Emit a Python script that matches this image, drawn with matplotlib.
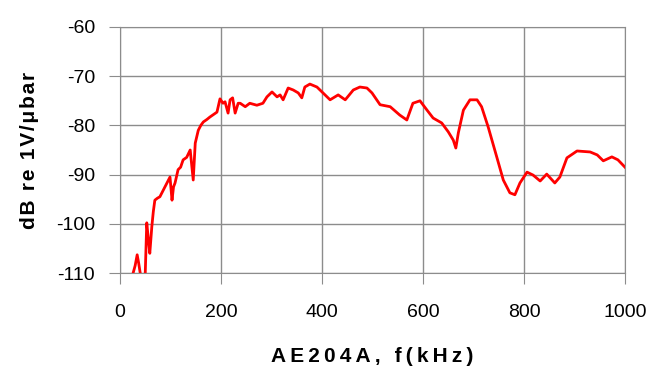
import matplotlib
matplotlib.use('Agg')
import matplotlib.pyplot as plt

# frequency (kHz) and response (dB re 1V/ubar)
freq = [26, 30, 34, 37, 40, 45, 50, 53, 56, 59, 63, 66, 69, 74, 79, 84, 89, 94,
        99, 103, 106, 109, 115, 120, 125, 132, 139, 145, 149, 155, 160, 165,
        172, 178, 185, 192, 198, 204, 208, 214, 218, 223, 228, 234, 238, 248,
        257, 271, 283, 291, 301, 311, 317, 323, 333, 343, 353, 360, 366, 376,
        390, 402, 416, 432, 446, 462, 475, 489, 499, 515, 535, 554, 568, 580,
        594, 608, 620, 637, 650, 660, 665, 670, 680, 693, 707, 716, 729, 746,
        759, 772, 782, 792, 806, 818, 832, 845, 861, 871, 885, 905, 931, 945,
        957, 974, 986, 1000]
db = [-110, -108.5, -106.3, -108, -110, -111, -110, -99.8, -103, -106, -100.6,
      -97.5, -95.2, -94.8, -94.5, -93.5, -92.5, -91.5, -90.5, -95.2, -92.5,
      -91.7, -89, -88.5, -87, -86.5, -85, -91.1, -83.6, -81, -80, -79.3, -78.8,
      -78.3, -77.8, -77.3, -74.6, -75.5, -75.2, -77.5, -74.8, -74.4, -77.5,
      -75.5, -75.5, -76.2, -75.5, -75.9, -75.5, -74.2, -73.2, -74.2, -73.8,
      -74.8, -72.4, -72.8, -73.4, -74.4, -72.2, -71.6, -72.2, -73.4, -74.8,
      -73.8, -74.8, -72.8, -72.2, -72.4, -73.4, -75.8, -76.2, -77.9, -78.9,
      -75.5, -75.0, -76.9, -78.5, -79.5, -81.3, -83, -84.6, -81.5, -76.9,
      -74.8, -74.8, -76.2, -80.3, -86.4, -91.1, -93.7, -94.1, -91.7, -89.5,
      -90.1, -91.3, -89.9, -91.7, -90.5, -86.6, -85.2, -85.4, -86, -87.2,
      -86.4, -87, -88.5]

xticks = [0, 200, 400, 600, 800, 1000]
yticks = [-110, -100, -90, -80, -70, -60]
xlabel = 'AE204A, f(kHz)'
ylabel = 'dB re 1V/μbar'

plt.rcParams['font.family'] = ['Liberation Sans', 'DejaVu Sans']
plt.rcParams['axes.unicode_minus'] = False

fig = plt.figure(figsize=(6.53, 3.70), dpi=100)
ax = fig.add_axes([120/653, 1 - 273/370, 505/653, 246/370])
ax.plot(freq, db, color='#ff0000', lw=2)
ax.set_xlim(0, 1000)
ax.set_ylim(-110, -60)
ax.set_xticks(xticks)
ax.set_yticks(yticks)
ax.grid(True, color='#8c8c8c', lw=1)
for s in ax.spines.values():
    s.set_color('#8c8c8c')
ax.tick_params(labelsize=14, length=8, color='#8c8c8c')
ax.tick_params(axis='x', pad=14)
ax.tick_params(axis='y', pad=10)
# letter spaced labels like the original
ax.set_ylabel('\u200a'.join(ylabel), fontsize=15, fontweight='bold', labelpad=12)
ax.set_xlabel('\u2009'.join(xlabel), fontsize=15, fontweight='bold', labelpad=19)
fig.savefig('out.png', dpi=100)
